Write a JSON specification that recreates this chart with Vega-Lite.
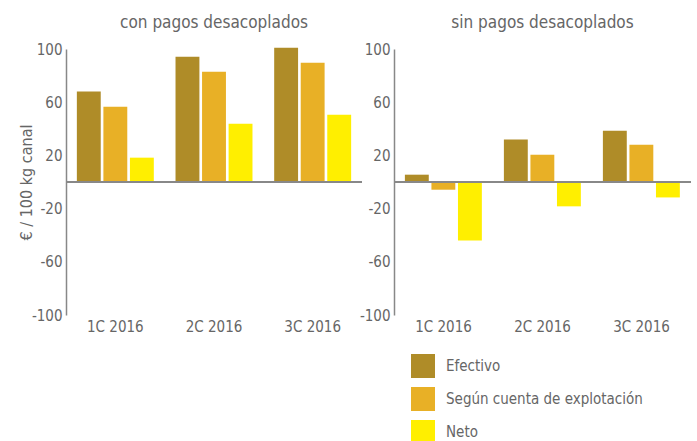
{
  "$schema": "https://vega.github.io/schema/vega-lite/v6.json",
  "background": "white",
  "padding": {"left": 18, "top": 14, "right": 5, "bottom": 0},
  "spacing": -4,
  "datasets": {
    "con": [
      {"trimestre": "1C 2016", "serie": "Efectivo", "valor": 68.1},
      {"trimestre": "1C 2016", "serie": "Según cuenta de explotación", "valor": 56.6},
      {"trimestre": "1C 2016", "serie": "Neto", "valor": 18.3},
      {"trimestre": "2C 2016", "serie": "Efectivo", "valor": 94.2},
      {"trimestre": "2C 2016", "serie": "Según cuenta de explotación", "valor": 82.9},
      {"trimestre": "2C 2016", "serie": "Neto", "valor": 43.8},
      {"trimestre": "3C 2016", "serie": "Efectivo", "valor": 101.0},
      {"trimestre": "3C 2016", "serie": "Según cuenta de explotación", "valor": 89.7},
      {"trimestre": "3C 2016", "serie": "Neto", "valor": 50.6}
    ],
    "sin": [
      {"trimestre": "1C 2016", "serie": "Efectivo", "valor": 5.5},
      {"trimestre": "1C 2016", "serie": "Según cuenta de explotación", "valor": -5.8},
      {"trimestre": "1C 2016", "serie": "Neto", "valor": -44.0},
      {"trimestre": "2C 2016", "serie": "Efectivo", "valor": 32.0},
      {"trimestre": "2C 2016", "serie": "Según cuenta de explotación", "valor": 20.5},
      {"trimestre": "2C 2016", "serie": "Neto", "valor": -18.3},
      {"trimestre": "3C 2016", "serie": "Efectivo", "valor": 38.6},
      {"trimestre": "3C 2016", "serie": "Según cuenta de explotación", "valor": 28.0},
      {"trimestre": "3C 2016", "serie": "Neto", "valor": -11.6}
    ]
  },
  "hconcat": [
    {
      "title": "con pagos desacoplados",
      "width": 296,
      "height": 266,
      "data": {"name": "con"},
      "layer": [
        {
          "mark": {"type": "bar"},
          "encoding": {
            "x": {"field": "trimestre", "type": "nominal", "scale": {"paddingInner": 0.22, "paddingOuter": 0.11}, "axis": {"title": null, "domain": false, "ticks": false, "labelAngle": 0, "labelPadding": 4}},
            "xOffset": {"field": "serie", "type": "nominal", "scale": {"domain": ["Efectivo", "Según cuenta de explotación", "Neto"], "paddingInner": 0.1, "paddingOuter": 0}},
            "y": {"field": "valor", "type": "quantitative", "scale": {"domain": [-100, 100], "nice": false}, "axis": {"title": "€ / 100 kg canal", "values": [-100, -60, -20, 20, 60, 100], "labelExpr": "replace(datum.label, '−', '-')", "titlePadding": -3, "titleFontSize": 16}},
            "color": {"field": "serie", "type": "nominal", "scale": {"domain": ["Efectivo", "Según cuenta de explotación", "Neto"], "range": ["#AF8C28", "#E8B026", "#FFEF00"]}, "legend": null}
          }
        },
        {
          "mark": {"type": "rule", "color": "#888888", "strokeWidth": 1.5},
          "encoding": {"y": {"datum": 0}}
        }
      ]
    },
    {
      "title": "sin pagos desacoplados",
      "width": 297,
      "height": 266,
      "data": {"name": "sin"},
      "layer": [
        {
          "mark": {"type": "bar"},
          "encoding": {
            "x": {"field": "trimestre", "type": "nominal", "scale": {"paddingInner": 0.22, "paddingOuter": 0.11}, "axis": {"title": null, "domain": false, "ticks": false, "labelAngle": 0, "labelPadding": 4}},
            "xOffset": {"field": "serie", "type": "nominal", "scale": {"domain": ["Efectivo", "Según cuenta de explotación", "Neto"], "paddingInner": 0.1, "paddingOuter": 0}},
            "y": {"field": "valor", "type": "quantitative", "scale": {"domain": [-100, 100], "nice": false}, "axis": {"title": null, "values": [-100, -60, -20, 20, 60, 100], "labelExpr": "replace(datum.label, '−', '-')"}},
            "color": {"field": "serie", "type": "nominal", "scale": {"domain": ["Efectivo", "Según cuenta de explotación", "Neto"], "range": ["#AF8C28", "#E8B026", "#FFEF00"]}, "legend": {"title": null, "orient": "none", "legendX": 17, "legendY": 305, "direction": "vertical", "symbolType": "square", "symbolSize": 576, "symbolStrokeWidth": 0, "symbolOpacity": 1, "rowPadding": 9, "labelOffset": 11, "labelFontSize": 15, "padding": 0}}
          }
        },
        {
          "mark": {"type": "rule", "color": "#888888", "strokeWidth": 1.5},
          "encoding": {"y": {"datum": 0}}
        }
      ]
    }
  ],
  "resolve": {"legend": {"color": "independent"}, "scale": {"x": "independent", "y": "independent"}},
  "config": {
    "font": "DejaVu Sans Condensed",
    "view": {"stroke": null},
    "title": {"font": "DejaVu Sans Condensed", "fontSize": 17, "fontWeight": "normal", "color": "#666666", "anchor": "middle", "offset": 10},
    "axis": {"labelFont": "DejaVu Sans Condensed", "labelFontSize": 15, "labelColor": "#666666", "titleFont": "DejaVu Sans Condensed", "titleFontSize": 15, "titleFontWeight": "normal", "titleColor": "#666666", "domainColor": "#888888", "domainWidth": 1.5, "ticks": false, "grid": false, "labelPadding": 4},
    "legend": {"labelFont": "DejaVu Sans Condensed", "labelColor": "#666666", "labelFontSize": 14, "labelLimit": 400}
  }
}
